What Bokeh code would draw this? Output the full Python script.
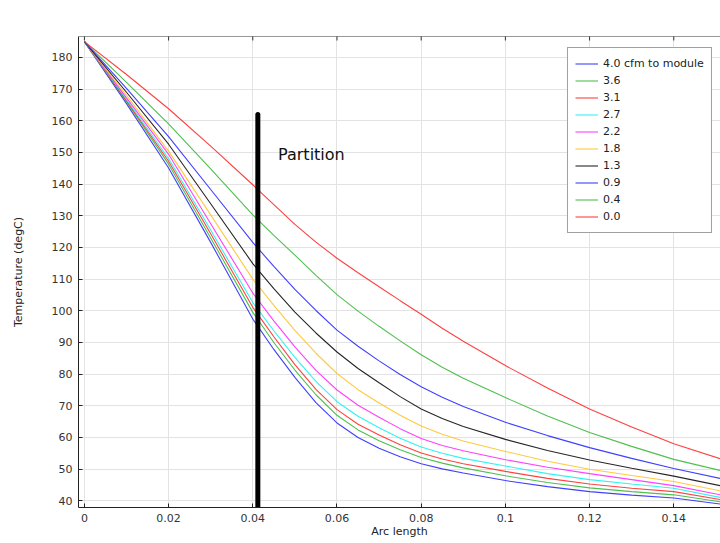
import math
from bokeh.plotting import figure
from bokeh.models import (Range1d, FixedTicker, Label, Legend, LegendItem, Span,
                          CustomJSTickFormatter, ColumnDataSource)
from bokeh.core.properties import value
from bokeh.embed import file_html
from bokeh.resources import INLINE

# ---------------- data ----------------
title_text = "Temperature along Lightguide for various air flows"
x_label = "Arc length"
y_label = "Temperature (degC)"

arc = [0, 0.01, 0.02, 0.03, 0.04, 0.045, 0.05, 0.055, 0.06, 0.065, 0.07, 0.075,
       0.08, 0.085, 0.09, 0.10, 0.11, 0.12, 0.13, 0.14, 0.151]

series_labels = ["4.0 cfm to module", "3.6", "3.1", "2.7", "2.2", "1.8", "1.3", "0.9", "0.4", "0.0"]
series_colors = ["#1f1fff", "#2fb52f", "#ff2020", "#10f0f0", "#ff20ff", "#ffc020", "#000000",
                 "#1f1fff", "#2fb52f", "#ff2020"]

t_40 = [185, 165.4, 145.1, 121.6, 97.4, 87.8, 79.0, 71.0, 64.6, 60.0, 56.6, 53.9, 51.7, 50.1, 48.8, 46.4, 44.5, 42.9, 41.8, 40.9, 39.0]
t_36 = [185, 166.0, 146.3, 123.0, 99.5, 90.0, 81.3, 73.5, 67.0, 62.4, 59.0, 56.1, 53.7, 51.9, 50.4, 47.9, 45.8, 44.1, 42.9, 41.9, 39.7]
t_31 = [185, 166.3, 147.2, 124.3, 101.1, 91.8, 83.0, 75.2, 68.8, 64.2, 60.8, 57.7, 55.1, 53.2, 51.7, 49.3, 47.1, 45.3, 44.0, 42.9, 40.4]
t_27 = [185, 166.7, 148.1, 125.5, 102.6, 93.7, 85.3, 77.7, 71.3, 66.7, 63.1, 59.8, 57.0, 55.0, 53.4, 51.0, 48.6, 46.7, 45.3, 44.0, 41.1]
t_22 = [185, 167.2, 149.4, 127.5, 105.6, 96.8, 88.6, 81.2, 75.0, 70.2, 66.4, 62.8, 59.7, 57.5, 55.8, 53.0, 50.6, 48.6, 46.7, 44.8, 41.9]
t_18 = [185, 168.0, 150.4, 130.3, 110.0, 101.7, 93.8, 86.6, 80.2, 75.1, 70.9, 67.0, 63.6, 61.0, 58.9, 55.6, 52.5, 50.0, 48.0, 46.1, 43.2]
t_13 = [185, 169.0, 152.6, 133.8, 114.9, 107.0, 99.6, 93.0, 87.0, 81.8, 77.3, 72.9, 69.0, 66.0, 63.5, 59.4, 55.9, 52.9, 50.3, 47.8, 44.8]
t_09 = [185, 170.2, 155.0, 138.3, 121.6, 114.0, 106.8, 100.1, 93.9, 88.8, 84.2, 79.9, 76.0, 72.7, 69.8, 64.8, 60.6, 56.8, 53.4, 50.2, 47.1]
t_04 = [185, 172.1, 159.0, 144.8, 130.3, 123.8, 117.6, 111.2, 105.1, 99.9, 95.1, 90.5, 86.1, 82.2, 78.7, 72.6, 66.8, 61.6, 57.2, 53.1, 49.6]
t_00 = [185, 174.6, 163.8, 152.0, 139.8, 133.5, 127.3, 121.7, 116.6, 112.0, 107.6, 103.2, 98.9, 94.5, 90.4, 82.7, 75.6, 69.0, 63.3, 58.0, 53.3]

series_values = [t_40, t_36, t_31, t_27, t_22, t_18, t_13, t_09, t_04, t_00]

x_ticks = [0, 0.02, 0.04, 0.06, 0.08, 0.10, 0.12, 0.14]
y_ticks = [40, 50, 60, 70, 80, 90, 100, 110, 120, 130, 140, 150, 160, 170, 180]

x_start, x_end = -0.0014, 0.1511
y_start, y_end = 37.9, 186.6

partition_x = [0.0412]
partition_top = [162.0]
partition_bottom = [30.0]
partition_label = "Partition"
partition_label_x = 0.0460
partition_label_y = 149.5

title_x, title_y = 0.0651, 193.8

# ---------------- figure ----------------
FONT = "DejaVu Sans"
p = figure(width=720, height=543, output_backend="svg", toolbar_location=None,
           x_range=Range1d(x_start, x_end), y_range=Range1d(y_start, y_end),
           min_border_left=78, min_border_right=0, min_border_top=36, min_border_bottom=36)
p.outline_line_color = None
p.background_fill_color = "white"
p.border_fill_color = "white"

for ax in (p.xaxis[0], p.yaxis[0]):
    ax.axis_line_color = "#222222"
    ax.major_tick_line_color = "#222222"
    ax.major_tick_in = 4
    ax.major_tick_out = 0
    ax.minor_tick_line_color = None
    ax.major_label_text_font = FONT
    ax.major_label_text_font_size = "11px"
    ax.major_label_text_color = "#333333"
    ax.axis_label_text_font = FONT
    ax.axis_label_text_font_size = "11px"
    ax.axis_label_text_font_style = "normal"
    ax.axis_label_text_color = "#222222"

p.xaxis[0].ticker = FixedTicker(ticks=x_ticks)
p.yaxis[0].ticker = FixedTicker(ticks=y_ticks)
p.xaxis[0].formatter = CustomJSTickFormatter(
    code="var s = tick.toFixed(2); s = s.replace(/0+$/, ''); s = s.replace(/\\.$/, ''); return s;")
p.xaxis[0].axis_label = x_label
p.yaxis[0].axis_label = y_label
p.xaxis[0].major_label_standoff = 6
p.xaxis[0].axis_label_standoff = 0
p.yaxis[0].major_label_standoff = 6
p.yaxis[0].axis_label_standoff = 24

# top frame line with inward ticks
p.add_layout(Span(location=y_end, dimension="width", line_color="#333333", line_width=1))
p.scatter(x=x_ticks, y=[y_end] * len(x_ticks), marker="dash", angle=math.pi / 2, size=8,
          line_color="#333333", line_width=1)

p.xgrid.ticker = FixedTicker(ticks=x_ticks)
p.ygrid.ticker = FixedTicker(ticks=y_ticks)
p.grid.grid_line_color = "#e3e3e3"
p.grid.grid_line_width = 1

items = []
for lab, col, vals in zip(series_labels, series_colors, series_values):
    src = ColumnDataSource(dict(x=arc, y=vals))
    r = p.line("x", "y", source=src, line_color=col, line_width=1.1, line_alpha=0.85)
    items.append(LegendItem(label=lab, renderers=[r]))

p.segment(x0=partition_x, y0=partition_top, x1=partition_x, y1=partition_bottom,
          line_color="black", line_width=5, line_cap="round")
p.text(x=[partition_label_x], y=[partition_label_y], text=[partition_label],
       text_font=value(FONT), text_font_size="16px", text_color="#111111",
       text_baseline="middle", text_align="left")

p.add_layout(Label(x=title_x, y=title_y, text=title_text, text_font=FONT,
                   text_font_size="11px", text_color="#222222",
                   text_align="center", text_baseline="middle"))

legend = Legend(items=items, location=(489, 274), label_text_font=FONT,
                label_text_font_size="11px", label_text_color="#222222",
                glyph_width=23, glyph_height=17, label_height=17, label_standoff=5,
                spacing=0, padding=7, margin=0, border_line_color="#444444",
                border_line_width=1, background_fill_color="white", background_fill_alpha=1)
p.add_layout(legend, "center")

open("out.html", "w").write(file_html(p, INLINE))
